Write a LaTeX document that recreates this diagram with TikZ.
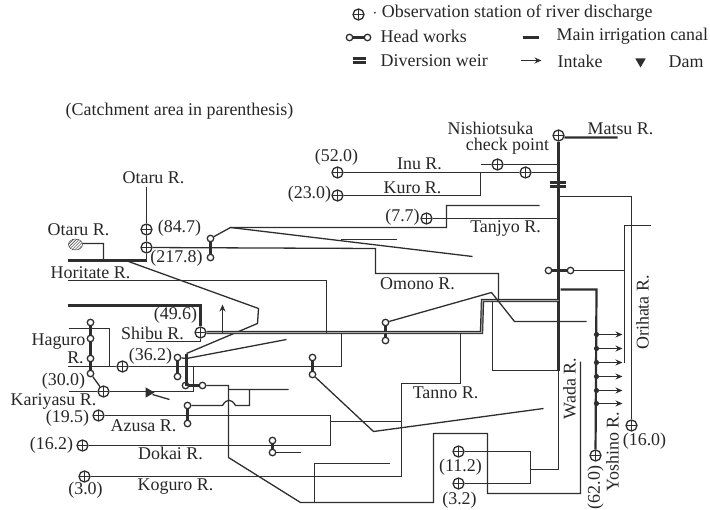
\documentclass[tikz,border=0pt]{standalone}
\usepackage{fontspec}
\setmainfont{Liberation Serif}
\usepackage{xcolor}
\usetikzlibrary{arrows.meta,patterns,shapes.geometric}
\definecolor{ink}{HTML}{2E2E2E}
\tikzset{
  station/.style = {circle, draw=ink, line width=1.3bp, inner sep=0pt, minimum size=11bp,
                    path picture={\draw[ink, line width=1.1bp]
                      (path picture bounding box.north) -- (path picture bounding box.south)
                      (path picture bounding box.west) -- (path picture bounding box.east);}},
  hw/.style      = {circle, draw=ink, line width=1.3bp, inner sep=0pt, minimum size=6.5bp},
  hwlink/.style  = {line width=2.6bp, draw=ink},
  river/.style   = {line width=1.3bp, draw=ink},
  canal/.style   = {line width=2.2bp, draw=ink},
  dbl/.style     = {double=white!65!black, double distance=1bp, line width=1.2bp, draw=ink},
  intake/.style  = {-{Stealth[length=7bp,width=6bp]}, line width=1.3bp, draw=ink},
  lbl/.style     = {font=\fontsize{18}{20}\selectfont, text=black!85, inner sep=0pt},
  dam/.style     = {isosceles triangle, isosceles triangle apex angle=60, fill=ink, inner sep=0pt, minimum size=9bp},
}
\begin{document}
\begin{tikzpicture}[x=1bp,y=-1bp]
  \useasboundingbox (0,0) rectangle (710,510);
  \begin{scope}[shift={(0.5,0.5)}]

  % observation stations
  \foreach \nm/\x/\y in {legst/358/14, otA/146/229, otB/146/247, shibu/200/332, pa/122/366, kari/103/391,
      azu/98/415, dok/82/445, kog/84/476, inu/337/172, kuro/337/195, tan/426/218, nisA/497/164, nisB/525/172,
      matsu/558/135, ori/631/425, yos/595/455, waA/458/451, waB/458/483}
    \node[station] (\nm) at (\x,\y) {};

  % head works
  \foreach \nm/\x/\y in {legA/349/37, legB/367/37, otaT/210/238, otaB/210/257, hagA/90/322, hagB/90/338, hagC/90/358,
      hagD/90/373, shT/177/357, shB/177/376, midL/185/385, midR/202/385, azT/187/405, azB/187/423,
      dkT/272/440, dkB/272/452, tnT/312/357, tnB/312/374, omT/385/322, omB/385/340, maL/548/270, maR/570/270}
    \node[hw] (\nm) at (\x,\y) {};
  \foreach \a/\b in {legA/legB, otaT/otaB, hagA/hagB, hagC/hagD, shT/shB, midL/midR, azT/azB, dkT/dkB, tnT/tnB, omT/omB, maL/maR}
    \draw[hwlink] (\a) -- (\b);

  % bends
  \foreach \nm/\x/\y in {otTop/146/187, otDn/146/260, hoL/67/260, lkA/82/243, laT/103/243, laB/103/260, hoA/128/261, hoB/258/308, hoC/257/323,
      hoD/186/353, hoE/186/385, sbA/186/358, sbB/286/339, otR/230/227, taA/446/227, taB/446/205, taC/539/205,
      fkE/472/256, fkA/340/239, fkB/396/239, omA/375/248, omC/375/273, omD/498/273, omF/498/300,
      tjE/558/218, inE/558/172, nsL/480/164, nsR/558/164, krA/480/195, krB/480/172,
      maE/617/137, ma/558/300, cnA/482/300, cnB/481/332, hoF/67/280, hoG/326/280, hoH/326/332,
      sbL/67/305, sbT/200/305, arA/222/332, arB/222/304, sbU/145/341, sbV/200/341,
      pcA/341/332, pcB/341/366, pcL/67/366, krC/193/366, krD/193/391, krL/68/391,
      hgL/68/328, hgM/109/328, hgN/109/366, az/330/415, azC/330/445, azD/330/421, tnA/401/421, tnC/401/476,
      tnD/401/383, tnE/460/383, tnF/460/332, hwA/373/431, hwB/543/408,
      omG/491/292, omH/514/321, omI/586/321, wdA/492/300, wdB/492/370, wdC/558/370, wdD/558/469, wdE/530/469,
      wdF/530/451, wdG/530/483, azE/222/405, azF/235/405, azG/249/405, azH/249/389, azI/228/389, azJ/288/389,
      dkC/300/452, mdA/228/385, mdB/228/457, mdC/300/502, mdD/314/502, mdE/433/502, mdF/433/433, mdG/487/433,
      mdH/487/493, mdI/580/493, mdJ/580/361, mdK/314/463, mdL/389/463,
      mtA/558/196, mtB/631/196, ohA/624/225, ohB/650/225, ohC/624/362, ohD/624/270, ysA/560/289, ysB/596/289,
      weirA/549/182, weirB/565/182, weirC/549/186, weirD/565/186,
      lgdA/522/37, lgdB/538/37, lgwA/352/58, lgwB/365/58, lgwC/352/62, lgwD/365/62, lgiA/520/60, lgiB/541/60,
      dmT/169/399, dmS/152/394}
    \coordinate (\nm) at (\x,\y);

  % rivers and canals
  \node[ellipse, draw=ink, pattern=north east lines, pattern color=ink, minimum width=14bp, minimum height=11bp, inner sep=0pt] (lake) at (75,244) {};
  \draw[river] (lake) -- (lkA) -- (laT) -- (laB);
  \draw[river] (otTop) -- (otA) -- (otB) -- (otDn);
  \draw[canal] (hoL) -- (otDn);
  \draw[river] (hoA) -- (hoB) -- (hoC) -- (hoD);
  \draw[river] (otB) -- (omA) -- (omC) -- (omD) -- (omF);
  \draw[river] (otaT) -- (otR) -- (taA) -- (taB) -- (taC);
  \draw[river] (otR) -- (fkE);
  \draw[river] (fkA) -- (fkB);
  \draw[river] (inu) -- (nisB) -- (inE);
  \draw[river] (nsL) -- (nisA) -- (nsR);
  \draw[river] (kuro) -- (krA) -- (krB);
  \draw[river] (tan) -- (tjE);
  \draw[canal] (matsu.-20) -- (maE);
  \draw[canal] (matsu) -- (ma);
  \draw[dbl] (ma) -- (cnA) -- (cnB) -- (shibu);
  \draw[river] (hoF) -- (hoG) -- (hoH);
  \draw[canal] (sbL) -- (sbT) -- (shibu);
  \draw[intake] (arA) -- (arB);
  \draw[river] (sbU) -- (sbV) -- (shibu);
  \draw[river] (pcA) -- (pcB) -- (pa) -- (pcL);
  \draw[river] (krC) -- (krD) -- (kari) -- (krL);
  \draw[river] (hgL) -- (hgM) -- (hgN);
  \draw[canal] (hagB) -- (hagC);
  \draw[river] (hagD) -- (kari);
  \draw[canal] (hoD) -- (hoE);
  \draw[river] (shT) -- (sbA) -- (sbB);
  \draw[river] (azu) -- (az) -- (azC) -- (dok);
  \draw[river] (azD) -- (tnA);
  \draw[river] (kog) -- (tnC) -- (tnD) -- (tnE) -- (tnF);
  \draw[river] (tnB) -- (hwA) -- (hwB);
  \draw[river] (omT) -- (omG) -- (omH) -- (omI);
  \draw[river] (wdA) -- (wdB) -- (wdC);
  \draw[canal] (ma) -- (wdC);
  \draw[river] (wdC) -- (wdD) -- (wdE);
  \draw[river] (wdF) -- (wdG);
  \draw[river] (waA) -- (wdF);
  \draw[river] (waB) -- (wdG);
  \draw[river] (azT) -- (azE) .. controls (226,398) and (231,398) .. (azF) -- (azG) -- (azH) -- (azI) -- (azJ);
  \draw[river] (dkB) -- (dkC);
  \draw[river] (midR) -- (mdA) -- (mdB) -- (mdC) -- (mdD) -- (mdE) -- (mdF) -- (mdG) -- (mdH) -- (mdI) -- (mdJ);
  \draw[river] (mdD) -- (mdK) -- (mdL);
  \draw[river] (mtA) -- (mtB) -- (ori);
  \draw[river] (ohB) -- (ohA) -- (ohC);
  \draw[river] (maR) -- (ohD);
  \draw[canal] (ysA) -- (ysB) -- (yos);
  \draw[canal] (weirA) -- (weirB);
  \draw[canal] (weirC) -- (weirD);

  % intakes
  \foreach \y in {334,348,362,376,390,403} {
    \coordinate (intL\y) at (596,\y);
    \coordinate (intR\y) at (622,\y);
    \fill[ink] (intL\y) circle (2.6bp);
    \draw[intake] (intL\y) -- (intR\y);
  }

  % dam on Kariyasu R.
  \node[dam, shape border rotate=10] (damA) at (148,392) {};
  \draw[river] (dmS) -- (dmT);

  % legend
  \draw[canal] (lgdA) -- (lgdB);
  \draw[canal] (lgwA) -- (lgwB);
  \draw[canal] (lgwC) -- (lgwD);
  \draw[intake] (lgiA) -- (lgiB);
  \node[dam, shape border rotate=270] (legdam) at (640,61) {};
  \node[lbl, anchor=west] (t1) at (372,13) {$\cdot$ Observation station of river discharge};
  \node[lbl, anchor=west] (t2) at (380,36) {Head works};
  \node[lbl, anchor=west] (t3) at (556,36) {Main irrigation canal};
  \node[lbl, anchor=west] (t4) at (380,60) {Diversion weir};
  \node[lbl, anchor=west] (t5) at (557,61) {Intake};
  \node[lbl, anchor=west] (t6) at (668,61) {Dam};
  \node[lbl, anchor=west] (t7) at (65,111) {(Catchment area in parenthesis)};

  % labels
  \foreach \nm/\x/\y/\txt in {a/153/177/Otaru R., b/78/229/Otaru R., c/90/272/Horitate R., d/179/228/(84.7), e/176/258/(217.8),
      f/175/315/(49.6), g/152/333/Shibu R., h/58/341/Haguro, i/75/357/R., j/150/356/(36.2), k/63/381/(30.0),
      l/53/401/Kariyasu R., m/67/418/(19.5), n/143/425/Azusa R., o/51/445/(16.2), p/170/453/Dokai R.,
      q/85/490/(3.0), r/175/486/Koguro R., s/336/157/(52.0), u/419/163/Inu R., v/309/194/(23.0), w/412/187/Kuro R.,
      x/402/217/(7.7), y/505/228/Tanjyo R., z/490/128/Nishiotsuka, aa/507/146/check point, ab/620/128/Matsu R.,
      ac/417/283/Omono R., ad/445/392/Tanno R., ae/644/441/(16.0), af/460/467/(11.2), ag/459/500/(3.2)}
    \node[lbl] (lab\nm) at (\x,\y) {\txt};
  \foreach \nm/\x/\y/\txt in {a/569/388/Wada R., b/612/451/Yoshino R., c/595/487/(62.0), d/642/312/Orihata R.}
    \node[lbl, rotate=90] (rot\nm) at (\x,\y) {\txt};
  \end{scope}
\end{tikzpicture}
\end{document}
